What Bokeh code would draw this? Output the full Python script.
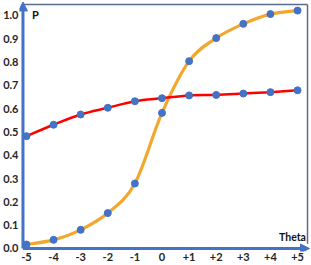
from bokeh.plotting import figure
from bokeh.models import FixedTicker, Arrow, NormalHead, Label, ColumnDataSource
from bokeh.embed import file_html
from bokeh.resources import INLINE

theta = [-5, -4, -3, -2, -1, 0, 1, 2, 3, 4, 5]
p_red = [0.482, 0.531, 0.575, 0.604, 0.632, 0.645, 0.657, 0.659, 0.665, 0.671, 0.679]
p_orange = [0.017, 0.037, 0.080, 0.152, 0.279, 0.582, 0.804, 0.903, 0.964, 1.006, 1.021]
x_tick_labels = ["-5", "-4", "-3", "-2", "-1", "0", "+1", "+2", "+3", "+4", "+5"]
y_ticks = [0.0, 0.1, 0.2, 0.3, 0.4, 0.5, 0.6, 0.7, 0.8, 0.9, 1.0]

BLUE = "#4472C4"
BORDER = "#5A6E8C"
RED = "#FF0000"
ORANGE = "#F2A72E"
FONT = "Lato"

X0, X1 = -5.257, 5.478
Y0, Y1 = -0.0129, 1.060
XA = -5.129     # position of the vertical axis
XR = 5.368      # right border
YT = 1.047      # top border
XE = 5.441      # end of horizontal arrow
YE = 1.058      # end of vertical arrow

p = figure(width=311, height=265, output_backend="svg", toolbar_location=None,
           x_range=(X0, X1), y_range=(Y0, Y1),
           min_border_left=18, min_border_right=1, min_border_top=1, min_border_bottom=14)
p.xgrid.visible = False
p.ygrid.visible = False
p.outline_line_color = None
p.background_fill_color = "white"
p.border_fill_color = "white"

for ax in (p.xaxis[0], p.yaxis[0]):
    ax.axis_line_color = None
    ax.major_tick_line_color = None
    ax.minor_tick_line_color = None
    ax.major_tick_out = 0
    ax.major_tick_in = 0
    ax.major_label_text_font = FONT
    ax.major_label_text_font_style = "bold"
    ax.major_label_text_font_size = "11px"
    ax.major_label_text_color = "#262626"

p.xaxis.ticker = FixedTicker(ticks=theta)
p.xaxis.major_label_overrides = {t: l for t, l in zip(theta, x_tick_labels)}
p.xaxis.major_label_standoff = 1
p.yaxis.ticker = FixedTicker(ticks=y_ticks)
p.yaxis.major_label_overrides = {t: f"{t:.1f}" for t in y_ticks}
p.yaxis.major_label_standoff = 1

# borders (top and right)
p.segment(x0=[XA, XR], y0=[YT, YT], x1=[XR, XR], y1=[YT, 0.02],
          line_color=BORDER, line_width=1.5)

# pixel scales for smoothing
sx = 292 / (X1 - X0)
sy = 250 / (Y1 - Y0)


def smooth(xs, ys):
    n = len(xs)
    px = [x * sx for x in xs]
    py = [y * sy for y in ys]
    out = dict(x0=[], y0=[], x1=[], y1=[], cx0=[], cy0=[], cx1=[], cy1=[])
    for i in range(n - 1):
        a = max(i - 1, 0)
        b = min(i + 2, n - 1)
        c0x = px[i] + (px[i + 1] - px[a]) / 6
        c0y = py[i] + (py[i + 1] - py[a]) / 6
        c1x = px[i + 1] - (px[b] - px[i]) / 6
        c1y = py[i + 1] - (py[b] - py[i]) / 6
        out["x0"].append(xs[i]); out["y0"].append(ys[i])
        out["x1"].append(xs[i + 1]); out["y1"].append(ys[i + 1])
        out["cx0"].append(c0x / sx); out["cy0"].append(c0y / sy)
        out["cx1"].append(c1x / sx); out["cy1"].append(c1y / sy)
    return ColumnDataSource(out)


p.bezier(x0="x0", y0="y0", x1="x1", y1="y1", cx0="cx0", cy0="cy0", cx1="cx1", cy1="cy1",
         source=smooth(theta, p_orange), line_color=ORANGE, line_width=3.2)
p.bezier(x0="x0", y0="y0", x1="x1", y1="y1", cx0="cx0", cy0="cy0", cx1="cx1", cy1="cy1",
         source=smooth(theta, p_red), line_color=RED, line_width=2.5)

p.scatter(theta, p_orange, size=7, fill_color=BLUE, line_color=BLUE)
p.scatter(theta, p_red, size=7, fill_color=BLUE, line_color=BLUE)

# axis arrows
p.add_layout(Arrow(end=NormalHead(size=9, fill_color=BLUE, line_color=BLUE),
                   x_start=XA, y_start=0, x_end=XA, y_end=YE,
                   line_color=BLUE, line_width=3))
p.add_layout(Arrow(end=NormalHead(size=9, fill_color=BLUE, line_color=BLUE),
                   x_start=XA, y_start=0, x_end=XE, y_end=0,
                   line_color=BLUE, line_width=3))

p.add_layout(Label(x=-4.80, y=1.034, text="P",
                   text_font=FONT, text_font_style="bold", text_font_size="11px",
                   text_color="#111111", text_baseline="top"))
p.add_layout(Label(x=5.31, y=0.073, text="Theta",
                   text_font=FONT, text_font_style="bold", text_font_size="10.5px",
                   text_color="#111111", text_align="right", text_baseline="top"))

open("out.html", "w").write(file_html(p, INLINE))
